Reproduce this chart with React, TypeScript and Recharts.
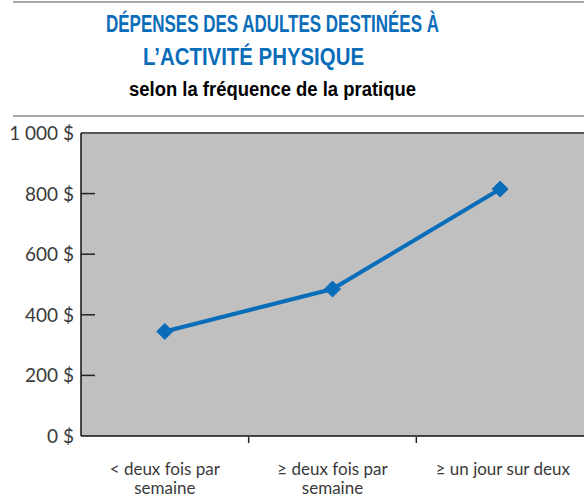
import React from 'react';
import { LineChart, Line, XAxis, YAxis, CartesianGrid, ReferenceLine } from 'recharts';

const categories = ['< deux fois par|semaine', '≥ deux fois par|semaine', '≥ un jour sur deux'];
const depenses = [345, 485, 815];
const yTicks = [0, 200, 400, 600, 800, 1000];

const data = categories.map((c, i) => ({ cat: c, value: depenses[i] }));

const BLUE = '#0a6dba';
const W = 584;
const H = 498;
const LEFT = 81;
const BAND = (W - LEFT) / categories.length;
const LABEL_FONT = "Lato, 'Noto Sans', sans-serif";

const fmt = (v: number) => `${v >= 1000 ? v.toLocaleString('fr-FR').replace(/\s/g, ' ') : v} $`;

const YTick = (props: any) => {
  const { x, y, payload } = props;
  return (
    <g>
      {payload.value > 0 && payload.value < 1000 && (
        <line x1={LEFT} x2={LEFT + 14} y1={y} y2={y} stroke="#222" strokeWidth={1.5} />
      )}
      <text x={x} y={y} dy={7} textAnchor="end" fill="#3a3a3a" fontSize={19} fontFamily={LABEL_FONT}>
        {fmt(payload.value)}
      </text>
    </g>
  );
};

const XTick = (props: any) => {
  const { x, y, payload, index } = props;
  const lines = String(payload.value).split('|');
  const half = payload.offset || BAND / 2;
  const last = index === categories.length - 1;
  const tx = last ? x + half - 14 : x;
  return (
    <g>
      {!last && (
        <line x1={x + half} x2={x + half} y1={y - 7} y2={y - 1} stroke="#222" strokeWidth={1.5} />
      )}
      <text
        x={tx}
        y={y + 31}
        textAnchor={last ? 'end' : 'middle'}
        fill="#3a3a3a"
        fontSize={17}
        fontFamily={LABEL_FONT}
      >
        {lines.map((l, i) => (
          <tspan key={i} x={tx} dy={i === 0 ? 0 : 19}>{l}</tspan>
        ))}
      </text>
    </g>
  );
};

const Diamond = (props: any) => {
  const { cx, cy } = props;
  const s = 8;
  return (
    <polygon
      points={`${cx},${cy - s} ${cx + s},${cy} ${cx},${cy + s} ${cx - s},${cy}`}
      fill={BLUE}
      stroke={BLUE}
      strokeWidth={1}
    />
  );
};

const TITLE_FONT = "'Liberation Sans', Arial, sans-serif";

const App: React.FC = () => {
  return (
    <div style={{ position: 'absolute', left: 0, top: 0, width: W, height: H, background: '#fff', overflow: 'hidden' }}>
      <div style={{ position: 'absolute', left: 13, right: 0, top: 1, height: 2, background: '#a8a8a8' }} />
      <svg width={W} height={110} style={{ position: 'absolute', left: 0, top: 0 }}>
        <g fontFamily={TITLE_FONT} fontWeight="bold">
          <text x={106} y={32} fontSize={23} fill={BLUE} textLength={333} lengthAdjust="spacingAndGlyphs">
            DÉPENSES DES ADULTES DESTINÉES À
          </text>
          <text x={143} y={65} fontSize={23} fill={BLUE} textLength={221} lengthAdjust="spacingAndGlyphs">
            L’ACTIVITÉ PHYSIQUE
          </text>
          <text x={129} y={96} fontSize={20} fill="#000" textLength={287} lengthAdjust="spacingAndGlyphs">
            selon la fréquence de la pratique
          </text>
        </g>
      </svg>
      <div style={{ position: 'absolute', left: 13, right: 0, top: 115, height: 2, background: '#a8a8a8' }} />
      <div style={{ position: 'absolute', left: 0, top: 0 }}>
        <LineChart width={W} height={H} data={data} margin={{ top: 133, right: 0, bottom: 0, left: 0 }}>
          <CartesianGrid fill="#c0c0c0" horizontal={false} vertical={false} />
          <XAxis
            dataKey="cat"
            scale="band"
            height={62}
            axisLine={{ stroke: '#111', strokeWidth: 1.5 }}
            tickLine={false}
            tick={<XTick />}
            interval={0}
          />
          <YAxis
            domain={[0, 1000]}
            ticks={yTicks}
            width={LEFT}
            axisLine={{ stroke: '#111', strokeWidth: 1.5 }}
            tickLine={false}
            tickSize={0}
            tickMargin={7}
            tick={<YTick />}
          />
          <ReferenceLine y={1000} stroke="#555" strokeWidth={2} />
          <Line
            dataKey="value"
            stroke={BLUE}
            strokeWidth={4}
            dot={<Diamond />}
            activeDot={false}
            isAnimationActive={false}
          />
        </LineChart>
      </div>
    </div>
  );
};

export default App;
